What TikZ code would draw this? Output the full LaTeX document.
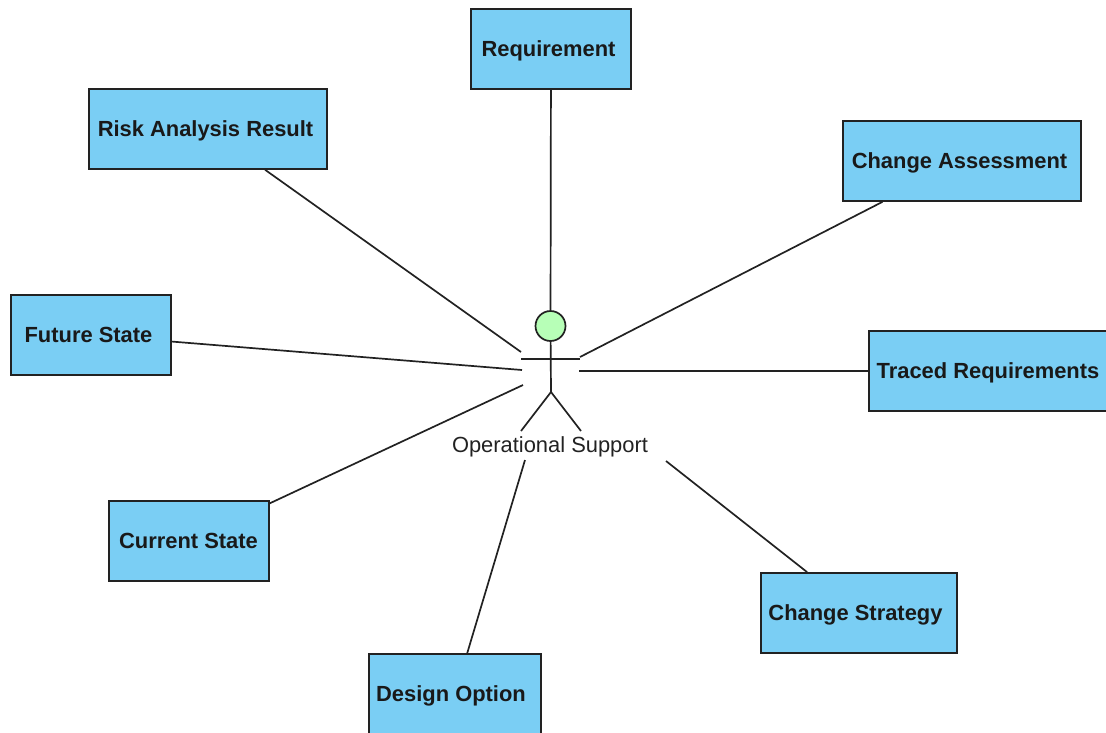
\documentclass[tikz,border=0pt]{standalone}
\usepackage{fontspec}
\setmainfont{Liberation Sans}
\usepackage{tikz}
\definecolor{boxblue}{HTML}{7ACEF4}
\definecolor{headgreen}{HTML}{B7FFB7}
\definecolor{inkdark}{HTML}{222222}
\tikzset{
	artifact/.style={draw=inkdark, line width=1.7pt, fill=boxblue, text=black!90, inner sep=0pt, minimum height=80pt, text height=17pt, text depth=2pt, font=\bfseries\fontsize{21.9}{26}\selectfont, execute at end node={\hspace*{#1}}},
	artifact/.default=5pt,
	link/.style={draw=inkdark, line width=1.7pt},
}

\begin{document}
\begin{tikzpicture}[x=1pt, y=-1pt]
			\useasboundingbox (0, 0) rectangle (1106, 732);

			\node [artifact, minimum width=160pt] (requirement) at (551, 49) {Requirement};
			\node [artifact, minimum width=238pt] (risk) at (208, 129) {Risk Analysis Result};
			\node [artifact, minimum width=238pt] (assessment) at (962, 161) {Change Assessment};
			\node [artifact, minimum width=160pt] (future) at (91, 335) {Future State};
			\node [artifact=0pt, minimum width=238pt] (traced) at (988, 371) {Traced Requirements};
			\node [artifact=1pt, minimum width=160pt] (current) at (189, 541) {Current State};
			\node [artifact=7pt, minimum width=196pt] (strategy) at (859, 613) {Change Strategy};
			\node [artifact=8pt, minimum width=172pt] (design) at (455, 694) {Design Option};

			\node [draw=inkdark, line width=1.7pt, fill=headgreen, circle, inner sep=0pt, minimum size=30pt] (head) at (550.5, 326) {};
			\node [text=inkdark, font=\fontsize{21.9}{26}\selectfont] (actor) at (550, 447) {Operational Support};

			\coordinate (hip) at (551, 392);
			\coordinate (armleft) at (521, 359);
			\coordinate (armright) at (580, 359);
			\coordinate (legleft) at (521, 431);
			\coordinate (legright) at (581, 431);

			\coordinate (riskend) at (521, 352);
			\coordinate (assessmentend) at (580, 357);
			\coordinate (futureend) at (522, 370);
			\coordinate (tracedend) at (579, 371);
			\coordinate (currentend) at (523, 385);
			\coordinate (strategyend) at (666, 461);
			\coordinate (designend) at (525, 460);

			\draw [link] (head) to (hip);
			\draw [link] (armleft) to (armright);
			\draw [link] (hip) to (legleft);
			\draw [link] (hip) to (legright);

			\draw [link] (requirement) to (head);
			\draw [link] (risk) to (riskend);
			\draw [link] (assessment) to (assessmentend);
			\draw [link] (future) to (futureend);
			\draw [link] (traced) to (tracedend);
			\draw [link] (current) to (currentend);
			\draw [link] (strategy) to (strategyend);
			\draw [link] (design) to (designend);
		\end{tikzpicture}
\end{document}
